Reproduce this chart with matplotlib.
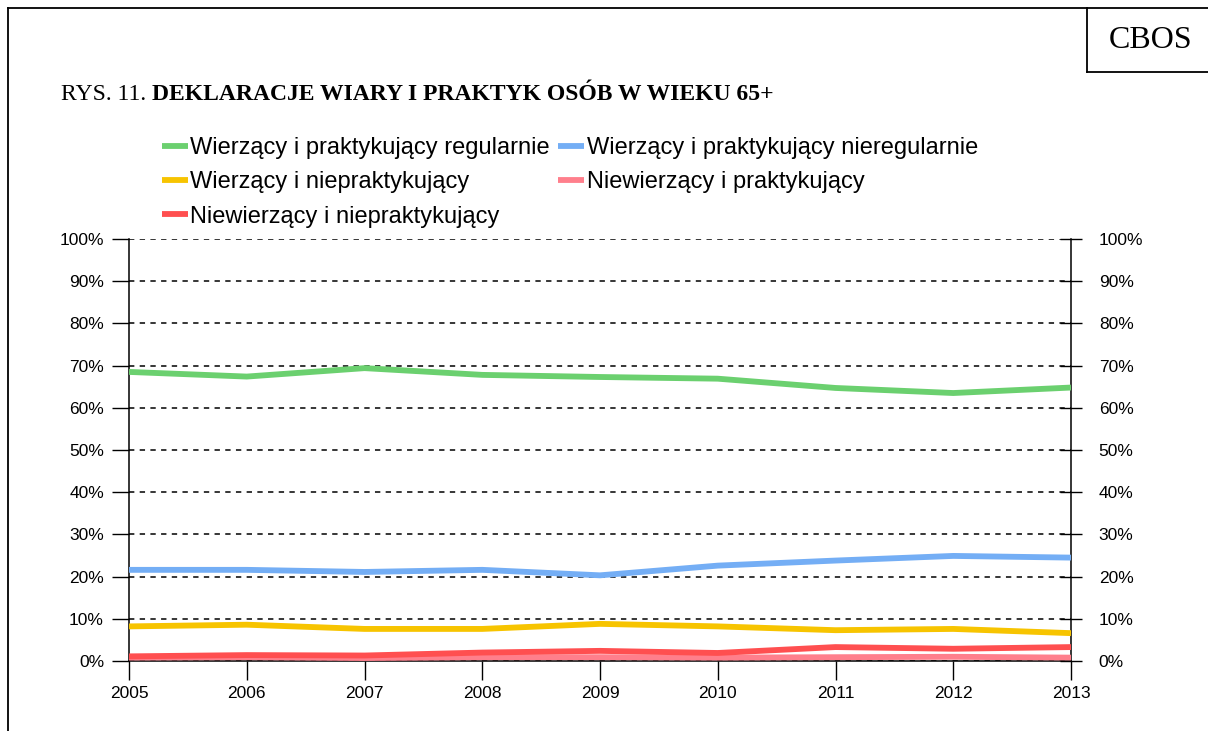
import numpy as np
import matplotlib
matplotlib.use("Agg")
from matplotlib import pyplot as plt
from matplotlib.lines import Line2D
from matplotlib.ticker import PercentFormatter

lata = [2005, 2006, 2007, 2008, 2009, 2010, 2011, 2012, 2013]
regularnie = [68.5, 67.4, 69.4, 67.8, 67.3, 66.9, 64.7, 63.5, 64.8]
nieregularnie = [21.6, 21.6, 21.1, 21.6, 20.3, 22.6, 23.8, 24.9, 24.5]
niepraktykujacy = [8.2, 8.6, 7.6, 7.6, 8.8, 8.2, 7.3, 7.6, 6.6]
niewierzacy_prakt = [0.8, 0.9, 0.7, 0.9, 0.9, 0.8, 0.9, 1.0, 0.8]
niewierzacy_nieprakt = [1.1, 1.4, 1.3, 2.0, 2.4, 1.9, 3.3, 2.9, 3.3]

nazwy = ["Wierzący i praktykujący regularnie",
         "Wierzący i praktykujący nieregularnie",
         "Wierzący i niepraktykujący",
         "Niewierzący i praktykujący",
         "Niewierzący i niepraktykujący"]
kolory = ["#6bd06f", "#74aef5", "#f7c400", "#ff7f8c", "#ff4f50"]
serie = [regularnie, nieregularnie, niepraktykujacy, niewierzacy_prakt, niewierzacy_nieprakt]

plt.rcParams['font.family'] = ['Liberation Sans', 'DejaVu Sans']

fig = plt.figure(figsize=(12.08, 7.31), dpi=100)
ax = fig.add_axes([129/1208, 70/731, 942/1208, 422/731])

linie = {}
for i in range(5):
    l, = ax.plot(lata, serie[i], color=kolory[i], lw=4.2, solid_capstyle='butt',
                 solid_joinstyle='round', zorder=3, label=nazwy[i])
    linie[i] = l

ax.set_xlim(2005, 2013)
ax.set_ylim(0, 100)
ax.set_xticks(lata)
ax.set_yticks(np.arange(0, 101, 10))
ax.yaxis.set_major_formatter(PercentFormatter(decimals=0))
ax.grid(axis='y', color='black', linestyle=(0, (3.5, 3.5)), lw=1.1, zorder=1)
ax.spines['top'].set_visible(False)
for s in ['left', 'right', 'bottom']:
    ax.spines[s].set_color('black')
    ax.spines[s].set_linewidth(1.1)
ax.tick_params(axis='y', direction='out', length=12, width=1, labelsize=12.5, pad=6)
ax.tick_params(axis='x', direction='out', length=14, width=1, labelsize=12.5, pad=4)

ax2 = ax.twinx()
ax2.set_ylim(0, 100)
ax2.set_yticks(np.arange(0, 101, 10))
ax2.yaxis.set_major_formatter(PercentFormatter(decimals=0))
ax2.tick_params(axis='y', direction='inout', length=16, width=1, labelsize=12.5, pad=12)
for s in ax2.spines.values():
    s.set_visible(False)

# legenda: kolumnowo green, yellow, red | blue, pink
uchwyty = [linie[0], linie[2], linie[4], linie[1], linie[3]]
fig.legend(handles=uchwyty, labels=[h.get_label() for h in uchwyty], ncol=2,
           loc='upper left', bbox_to_anchor=(162/1208, 1 - 137/731), frameon=False,
           fontsize=17, handlelength=1.1, handletextpad=0.1, columnspacing=0.35,
           labelspacing=0.52, borderpad=0, borderaxespad=0)

# ramka strony (lewa i gorna krawedz, prawa wychodzi poza obraz)
tf = fig.transFigure
fig.add_artist(Line2D([8/1208, 8/1208], [0, 1 - 8/731], transform=tf, color='black', lw=1.3))
fig.add_artist(Line2D([8/1208, 1], [1 - 8/731, 1 - 8/731], transform=tf, color='black', lw=1.3))
# pudelko CBOS
fig.add_artist(Line2D([1087/1208, 1087/1208], [1 - 8/731, 1 - 72/731], transform=tf, color='black', lw=1.3))
fig.add_artist(Line2D([1087/1208, 1], [1 - 72/731, 1 - 72/731], transform=tf, color='black', lw=1.3))
fig.text(1151/1208, 1 - 40/731, "CBOS", family='Liberation Serif', fontsize=23,
         ha='center', va='center')

fig.text(61/1208, 1 - 94/731, "RYS. 11.", family='Liberation Serif', fontsize=17,
         ha='left', va='center')
fig.text(152/1208, 1 - 94/731, "DEKLARACJE WIARY I PRAKTYK OSÓB W WIEKU 65+",
         family='Liberation Serif', fontsize=17, fontweight='bold', ha='left', va='center')

fig.savefig("out.png", dpi=100)
